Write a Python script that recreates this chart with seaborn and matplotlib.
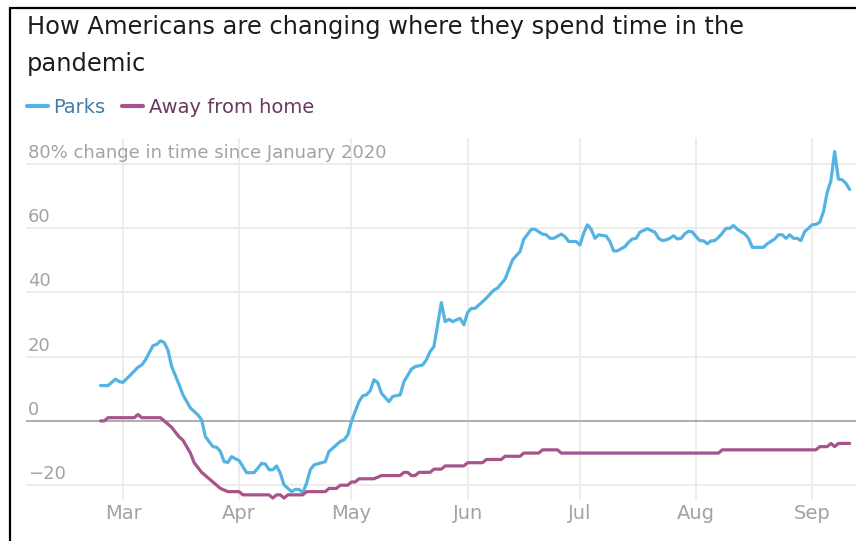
import matplotlib
matplotlib.use("Agg")
import matplotlib.pyplot as plt
from matplotlib.lines import Line2D
from matplotlib import transforms
import pandas as pd
import seaborn as sns

# ──────────────────────────────
# Data
# ──────────────────────────────
parks_dates = [
    "02-24", "02-26", "02-28", "02-29", "03-01", "03-03", "03-05", "03-06", "03-07", "03-09",
    "03-10", "03-11", "03-12", "03-13", "03-14", "03-16", "03-17", "03-19", "03-21", "03-22",
    "03-23", "03-25", "03-26", "03-27", "03-28", "03-29", "03-30", "03-31", "04-01", "04-02",
    "04-03", "04-05", "04-06", "04-07", "04-08", "04-09", "04-10", "04-11", "04-12", "04-13",
    "04-15", "04-16", "04-17", "04-18", "04-19", "04-20", "04-21", "04-23", "04-24", "04-25",
    "04-26", "04-28", "04-29", "04-30", "05-01", "05-02", "05-03", "05-04", "05-05", "05-06",
    "05-07", "05-08", "05-09", "05-11", "05-12", "05-14", "05-15", "05-17", "05-18", "05-20",
    "05-21", "05-22", "05-23", "05-25", "05-26", "05-27", "05-28", "05-30", "05-31", "06-01",
    "06-02", "06-03", "06-05", "06-06", "06-08", "06-09", "06-11", "06-13", "06-15", "06-16",
    "06-18", "06-19", "06-21", "06-22", "06-23", "06-24", "06-26", "06-27", "06-28", "06-30",
    "07-01", "07-02", "07-03", "07-04", "07-05", "07-06", "07-08", "07-09", "07-10", "07-11",
    "07-13", "07-14", "07-15", "07-16", "07-17", "07-19", "07-20", "07-21", "07-22", "07-23",
    "07-24", "07-25", "07-26", "07-27", "07-28", "07-29", "07-30", "07-31", "08-01", "08-02",
    "08-03", "08-04", "08-05", "08-06", "08-07", "08-08", "08-09", "08-10", "08-11", "08-12",
    "08-14", "08-15", "08-16", "08-17", "08-19", "08-20", "08-22", "08-23", "08-24", "08-25",
    "08-26", "08-27", "08-28", "08-29", "08-30", "08-31", "09-01", "09-02", "09-03", "09-04",
    "09-05", "09-06", "09-07", "09-08", "09-09", "09-10", "09-11",
]
parks_values = [
    11, 11, 13, 12.2, 12, 14.3, 16.7, 17.4, 19, 23.4,
    23.8, 24.9, 24.4, 22, 16.9, 11.2, 8.1, 4, 1.9, 0.3,
    -4.9, -8, -8.2, -9.5, -12.7, -12.9, -11.1, -11.8, -12.3, -14.2,
    -16.1, -16.1, -14.7, -13.2, -13.4, -15.2, -15.2, -14, -16.3, -19.9,
    -22, -21.3, -21.3, -22.3, -19.4, -15.2, -13.7, -13, -12.7, -9.5,
    -8.5, -6.4, -5.9, -4.4, -0.2, 3, 6, 7.8, 8.1, 9.4,
    12.8, 11.9, 8.6, 6, 7.6, 8.1, 12.2, 16.1, 16.9, 17.4,
    19, 21.6, 23.1, 36.8, 30.9, 31.6, 30.9, 31.9, 29.9, 33.7,
    35, 35, 37.1, 38.2, 40.7, 41.3, 44.1, 50.1, 52.7, 56.5,
    59.6, 59.6, 58.1, 57.9, 56.8, 56.8, 58.1, 57.3, 55.8, 55.8,
    54.7, 58.4, 61, 59.6, 56.8, 57.9, 57.5, 55.8, 52.9, 52.9,
    54.2, 55.6, 56.6, 56.8, 58.7, 59.8, 59.2, 58.7, 56.8, 56.1,
    56.3, 56.8, 57.6, 56.6, 56.8, 58.2, 59, 58.8, 57.3, 56.1,
    56, 55.1, 56, 56.1, 57.1, 58.4, 59.9, 59.9, 60.8, 59.6,
    58.2, 56.8, 54, 54, 54, 55.1, 56.6, 57.9, 57.9, 56.8,
    57.9, 56.8, 56.8, 56.1, 58.9, 59.9, 61, 61.1, 61.8, 65,
    71, 74.7, 83.8, 75.2, 75, 73.9, 72,
]

away_dates = [
    "02-24", "02-25", "02-26", "03-04", "03-05", "03-06", "03-10", "03-11", "03-12", "03-13",
    "03-14", "03-16", "03-17", "03-19", "03-20", "03-22", "03-24", "03-26", "03-27", "03-29",
    "04-01", "04-02", "04-09", "04-10", "04-11", "04-12", "04-13", "04-14", "04-18", "04-19",
    "04-24", "04-25", "04-27", "04-28", "04-30", "05-01", "05-02", "05-03", "05-07", "05-09",
    "05-14", "05-15", "05-16", "05-17", "05-18", "05-19", "05-22", "05-23", "05-25", "05-26",
    "05-31", "06-01", "06-05", "06-06", "06-10", "06-11", "06-15", "06-16", "06-20", "06-21",
    "06-25", "06-26", "08-07", "08-08", "09-02", "09-03", "09-05", "09-06", "09-07", "09-08",
    "09-11",
]
away_values = [
    0, 0, 1, 1, 2, 1, 1, 1, 0, -1,
    -2, -5, -6, -10, -13, -16, -18, -20, -21, -22,
    -22, -23, -23, -24, -23, -23, -24, -23, -23, -22,
    -22, -21, -21, -20, -20, -19, -19, -18, -18, -17,
    -17, -16, -16, -17, -17, -16, -16, -15, -15, -14,
    -14, -13, -13, -12, -12, -11, -11, -10, -10, -9,
    -9, -10, -10, -9, -9, -8, -8, -7, -8, -7,
    -7,
]

series_names = ["Parks", "Away from home"]
y_ticks = [-20, 0, 20, 40, 60, 80]
y_labels = ["\u221220", "0", "20", "40", "60", "80% change in time since January 2020"]
month_ticks = ["2020-03-01", "2020-04-01", "2020-05-01", "2020-06-01",
               "2020-07-01", "2020-08-01", "2020-09-01"]
month_labels = ["Mar", "Apr", "May", "Jun", "Jul", "Aug", "Sep"]

TITLE = "How Americans are changing where they spend time in the"
TITLE_2 = "pandemic"

PARKS_COLOR = "#55b3e4"
AWAY_COLOR = "#a8548c"
PARKS_TEXT = "#3f7fa6"
AWAY_TEXT = "#6a3a5f"
TICK_GRAY = "#a3a3a3"
GRID_GRAY = "#ebebeb"

# ──────────────────────────────
# Build frame
# ──────────────────────────────
df = pd.concat([
    pd.DataFrame({"date": pd.to_datetime(["2020-" + d for d in parks_dates]),
                  "value": parks_values, "series": series_names[0]}),
    pd.DataFrame({"date": pd.to_datetime(["2020-" + d for d in away_dates]),
                  "value": away_values, "series": series_names[1]}),
], ignore_index=True)

sns.set_theme(style="white")
plt.rcParams["font.family"] = ["DejaVu Sans"]

W, H = 856, 541
fig = plt.figure(figsize=(W / 100, H / 100), dpi=100)
fig.patch.set_facecolor("white")

# axes box in pixel terms: left 26, top 138, bottom 500
ax = fig.add_axes([26 / W, 1 - 500 / H, (W - 26) / W, (500 - 138) / H])

sns.lineplot(data=df, x="date", y="value", hue="series",
             palette={series_names[0]: PARKS_COLOR, series_names[1]: AWAY_COLOR},
             linewidth=2.3, legend=False, estimator=None, ax=ax, zorder=3)
for ln in ax.lines:
    ln.set_solid_capstyle("round")
    ln.set_solid_joinstyle("round")

mar1 = pd.Timestamp("2020-03-01")
ax.set_xlim(mar1 - pd.Timedelta(days=25.9), mar1 + pd.Timedelta(days=195.7))
ax.set_ylim(-24.6, 88)

# grid
ax.set_yticks(y_ticks)
ax.set_xticks(pd.to_datetime(month_ticks))
ax.set_xticklabels(month_labels)
ax.grid(True, axis="both", color=GRID_GRAY, linewidth=1.3, zorder=0)
ax.set_axisbelow(True)
ax.axhline(0, color="#9d9d9d", linewidth=1.1, zorder=2)

ax.tick_params(axis="y", labelleft=False, length=0)
ax.tick_params(axis="x", length=0, pad=3, labelsize=14, labelcolor=TICK_GRAY)
ax.set_xlabel("")
ax.set_ylabel("")
for sp in ax.spines.values():
    sp.set_visible(False)

# y labels sit inside the plot, just above their gridline
trans = transforms.blended_transform_factory(ax.transAxes, ax.transData)
trans = transforms.offset_copy(trans, fig=fig, x=0, y=6, units="dots")
for v, lab in zip(y_ticks, y_labels):
    ax.text(0.002, v, lab, transform=trans, ha="left", va="baseline",
            fontsize=13, color=TICK_GRAY, zorder=4)

# ──────────────────────────────
# Title + legend
# ──────────────────────────────
fig.text(27 / W, 1 - 34 / H, TITLE, fontsize=17.4, color="#1c1c1c", va="baseline")
fig.text(27 / W, 1 - 71 / H, TITLE_2, fontsize=17.4, color="#1c1c1c", va="baseline")

fig.add_artist(Line2D([27 / W, 48 / W], [1 - 106 / H] * 2, transform=fig.transFigure,
                      color=PARKS_COLOR, linewidth=3, solid_capstyle="round"))
fig.text(53 / W, 1 - 113 / H, series_names[0], fontsize=14, color=PARKS_TEXT, va="baseline")
fig.add_artist(Line2D([122 / W, 143 / W], [1 - 106 / H] * 2, transform=fig.transFigure,
                      color=AWAY_COLOR, linewidth=3, solid_capstyle="round"))
fig.text(149 / W, 1 - 113 / H, series_names[1], fontsize=14, color=AWAY_TEXT, va="baseline")

# frame edges from the screenshot
fig.add_artist(Line2D([10 / W, 10 / W], [0, 1 - 8 / H], transform=fig.transFigure,
                      color="black", linewidth=1.6))
fig.add_artist(Line2D([10 / W, 1], [1 - 8 / H] * 2, transform=fig.transFigure,
                      color="black", linewidth=1.6))

fig.savefig("out.png", dpi=100, facecolor="white")
plt.close(fig)
